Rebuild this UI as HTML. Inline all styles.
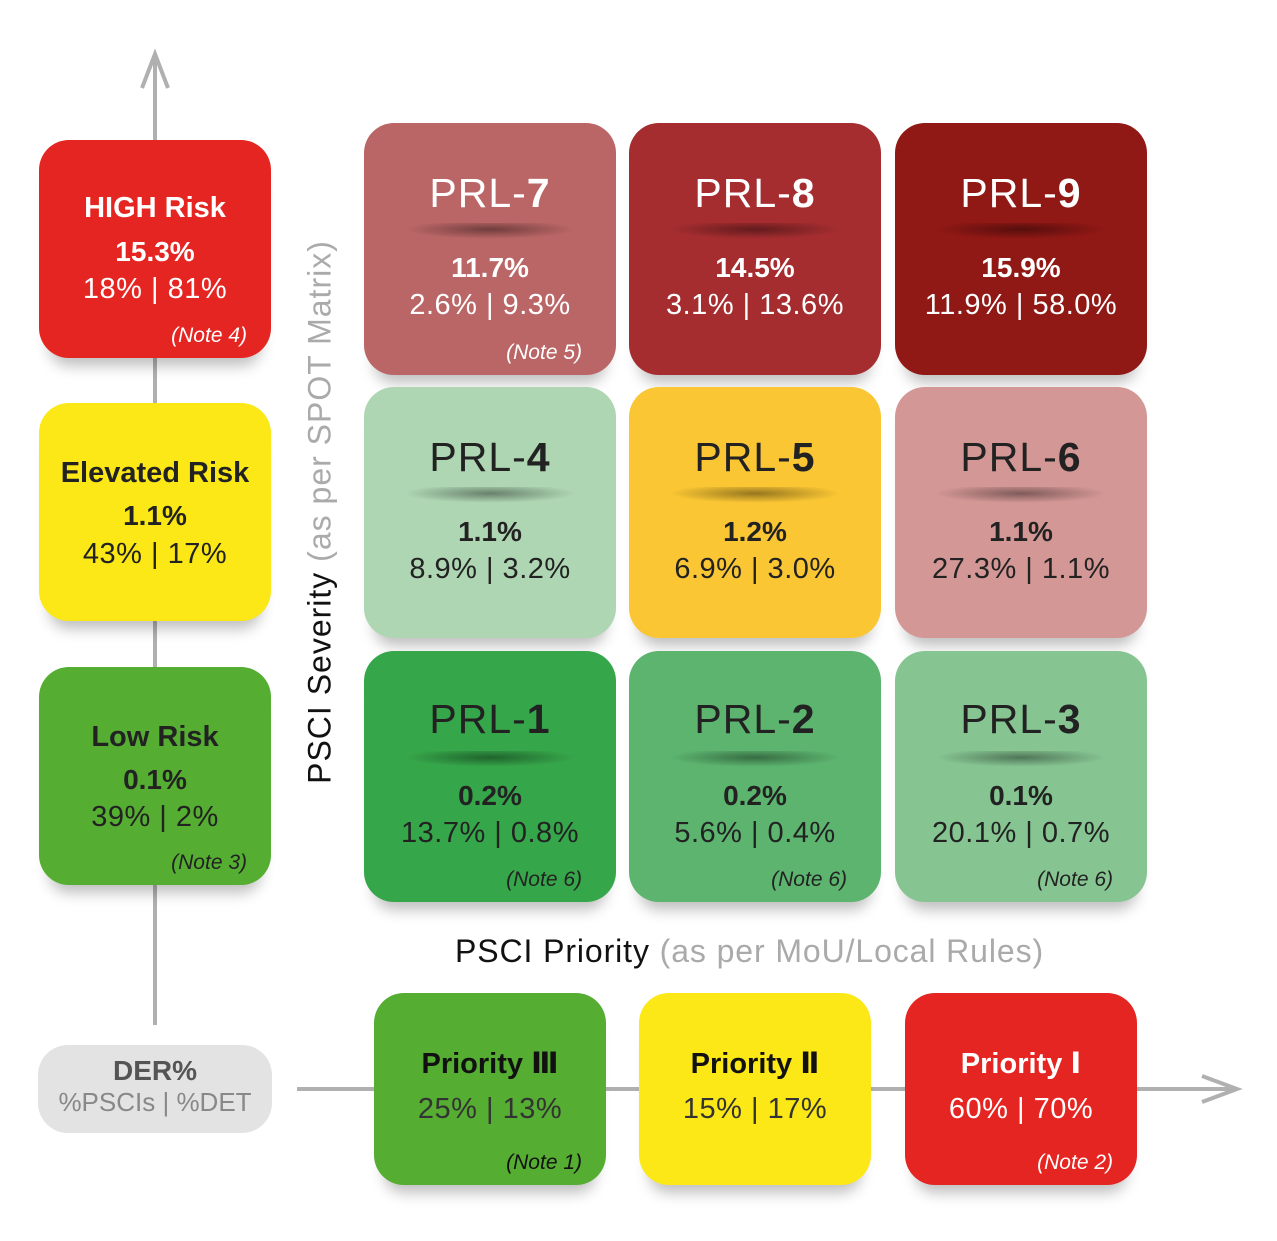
<!DOCTYPE html>
<html><head><meta charset="utf-8"><style>
body{margin:0;width:1277px;height:1241px;background:#fff;position:relative;overflow:hidden;font-family:"Liberation Sans","DejaVu Sans",sans-serif}
.b{position:absolute;border-radius:30px;text-align:center;box-shadow:0 18px 14px -10px rgba(0,0,0,.25)}
.t{position:absolute;left:0;right:0;font-size:41px;top:48px;line-height:44px;letter-spacing:1px}
.t b{font-weight:bold}
.sh{position:absolute;left:40px;right:40px;top:100px;height:16px;background:radial-gradient(ellipse at 50% 40%,rgba(0,0,0,.4),rgba(0,0,0,0) 70%)}
.p{position:absolute;left:0;right:0;font-size:28px;font-weight:bold;top:128px;line-height:34px}
.q{position:absolute;left:0;right:0;font-size:29px;top:165px;line-height:34px;letter-spacing:.5px}
.n{position:absolute;right:34px;font-size:21px;font-style:italic;bottom:10px}
.w{color:#fff}.d{color:#222}
.L .h{position:absolute;left:0;right:0;font-size:29px;font-weight:bold}
.L .p2{position:absolute;left:0;right:0;font-size:28px;font-weight:bold}
.L .q2{position:absolute;left:0;right:0;font-size:29px;letter-spacing:.5px}
</style></head><body>
<svg width="1277" height="1241" style="position:absolute;left:0;top:0">
<line x1="155" y1="55" x2="155" y2="1025" stroke="#b0b0b0" stroke-width="4"/>
<polyline points="142,88 155,54 168,88" fill="none" stroke="#b0b0b0" stroke-width="4"/>
<line x1="297" y1="1089" x2="1236" y2="1089" stroke="#b0b0b0" stroke-width="4"/>
<polyline points="1202,1076 1237,1089 1202,1102" fill="none" stroke="#b0b0b0" stroke-width="4"/>
</svg>

<div class="L">
<div class="b" style="left:39px;top:140px;width:232px;height:218px;background:#e52521;color:#fff">
<div class="h" style="top:52px">HIGH Risk</div><div class="p2" style="top:96px">15.3%</div><div class="q2" style="top:133px">18% | 81%</div><div class="n" style="right:24px">(Note 4)</div></div>
<div class="b" style="left:39px;top:403px;width:232px;height:218px;background:#fce816;color:#222">
<div class="h" style="top:54px">Elevated Risk</div><div class="p2" style="top:97px">1.1%</div><div class="q2" style="top:135px">43% | 17%</div></div>
<div class="b" style="left:39px;top:667px;width:232px;height:218px;background:#55ad32;color:#222">
<div class="h" style="top:54px">Low Risk</div><div class="p2" style="top:97px">0.1%</div><div class="q2" style="top:134px">39% | 2%</div><div class="n" style="right:24px">(Note 3)</div></div>
<div class="b" style="left:38px;top:1045px;width:234px;height:88px;background:#e3e3e3;box-shadow:none">
<div class="p2" style="top:10px;color:#555">DER%</div><div class="q2" style="top:42px;font-size:26px;color:#888;letter-spacing:0">%PSCIs | %DET</div></div>
</div>

<div style="position:absolute;left:320px;top:512px;transform:translate(-50%,-50%) rotate(-90deg);white-space:nowrap;font-size:32px;letter-spacing:1px;color:#111">PSCI Severity <span style="color:#aaa">(as per SPOT Matrix)</span></div>
<div style="position:absolute;left:455px;top:933px;white-space:nowrap;font-size:32px;letter-spacing:.9px;color:#111">PSCI Priority <span style="color:#aaa">(as per MoU/Local Rules)</span></div>

<div class="b w" style="left:364px;top:123px;width:252px;height:252px;background:#bb6666"><div class="t">PRL-<b>7</b></div><div class="sh"></div><div class="p">11.7%</div><div class="q">2.6% | 9.3%</div><div class="n">(Note 5)</div></div>
<div class="b w" style="left:629px;top:123px;width:252px;height:252px;background:#a52d30"><div class="t">PRL-<b>8</b></div><div class="sh"></div><div class="p">14.5%</div><div class="q">3.1% | 13.6%</div></div>
<div class="b w" style="left:895px;top:123px;width:252px;height:252px;background:#901815"><div class="t">PRL-<b>9</b></div><div class="sh"></div><div class="p">15.9%</div><div class="q">11.9% | 58.0%</div></div>

<div class="b d" style="left:364px;top:387px;width:252px;height:251px;background:#aed6b3"><div class="t">PRL-<b>4</b></div><div class="sh"></div><div class="p">1.1%</div><div class="q">8.9% | 3.2%</div></div>
<div class="b d" style="left:629px;top:387px;width:252px;height:251px;background:#fac634"><div class="t">PRL-<b>5</b></div><div class="sh"></div><div class="p">1.2%</div><div class="q">6.9% | 3.0%</div></div>
<div class="b d" style="left:895px;top:387px;width:252px;height:251px;background:#d39795"><div class="t">PRL-<b>6</b></div><div class="sh"></div><div class="p">1.1%</div><div class="q">27.3% | 1.1%</div></div>

<div class="b d" style="left:364px;top:651px;width:252px;height:251px;background:#36a64a"><div class="t" style="top:46px">PRL-<b>1</b></div><div class="sh"></div><div class="p">0.2%</div><div class="q">13.7% | 0.8%</div><div class="n">(Note 6)</div></div>
<div class="b d" style="left:629px;top:651px;width:252px;height:251px;background:#5cb46f"><div class="t" style="top:46px">PRL-<b>2</b></div><div class="sh"></div><div class="p">0.2%</div><div class="q">5.6% | 0.4%</div><div class="n">(Note 6)</div></div>
<div class="b d" style="left:895px;top:651px;width:252px;height:251px;background:#86c592"><div class="t" style="top:46px">PRL-<b>3</b></div><div class="sh"></div><div class="p">0.1%</div><div class="q">20.1% | 0.7%</div><div class="n">(Note 6)</div></div>

<div class="L">
<div class="b" style="left:374px;top:993px;width:232px;height:192px;background:#55ad32;color:#111">
<div class="h" style="top:53px">Priority Ⅲ</div><div class="q2" style="top:100px;color:#333">25% | 13%</div><div class="n" style="right:24px">(Note 1)</div></div>
<div class="b" style="left:639px;top:993px;width:232px;height:192px;background:#fce816;color:#111">
<div class="h" style="top:53px">Priority Ⅱ</div><div class="q2" style="top:100px;color:#333">15% | 17%</div></div>
<div class="b" style="left:905px;top:993px;width:232px;height:192px;background:#e52521;color:#fff">
<div class="h" style="top:53px">Priority Ⅰ</div><div class="q2" style="top:100px">60% | 70%</div><div class="n" style="right:24px">(Note 2)</div></div>
</div>
</body></html>
